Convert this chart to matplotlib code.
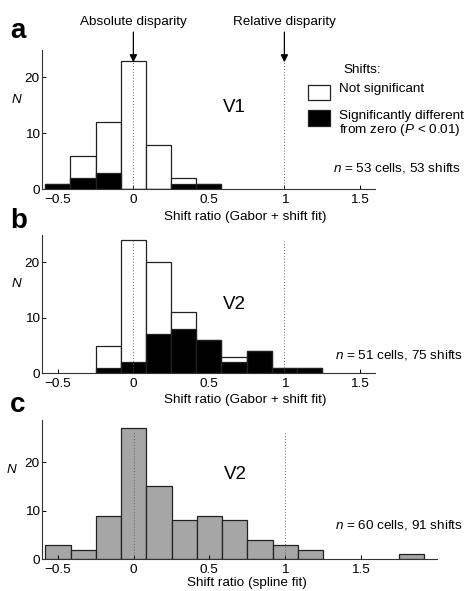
import numpy as np
import matplotlib
matplotlib.use("Agg")
import matplotlib.pyplot as plt
from matplotlib.patches import Rectangle

plt.rcParams['font.family'] = ['Liberation Sans', 'DejaVu Sans']
plt.rcParams['mathtext.fontset'] = 'custom'
plt.rcParams['mathtext.rm'] = 'Liberation Sans'
plt.rcParams['mathtext.it'] = 'Liberation Sans:italic'
plt.rcParams['axes.unicode_minus'] = True

BIN_W = 1 / 6

# Panel a (V1)
a_centers = [-3, -2, -1, 0, 1, 2, 3]          # in units of bin width
a_total = [1, 6, 12, 23, 8, 2, 1]
a_signif = [1, 2, 3, 0, 0, 1, 1]

# Panel b (V2, Gabor + shift fit)
b_centers = [-1, 0, 1, 2, 3, 4, 5, 6, 7]
b_total = [5, 24, 20, 11, 6, 3, 4, 1, 1]
b_signif = [1, 2, 7, 8, 6, 2, 4, 1, 1]

# Panel c (V2, spline fit)
c_centers = [-3, -2, -1, 0, 1, 2, 3, 4, 5, 6, 7, 11]
c_counts = [3, 2, 9, 27, 15, 8, 9, 8, 4, 3, 2, 1]

xticks = [-0.5, 0, 0.5, 1, 1.5]
xtick_labels = ['\u22120.5', '0', '0.5', '1', '1.5']
yticks = [0, 10, 20]

W, H = 466, 591
fig = plt.figure(figsize=(W / 100, H / 100), dpi=100)

def px_axes(left, right, top, bottom):
    return fig.add_axes([left / W, 1 - bottom / H, (right - left) / W, (bottom - top) / H])

ax_a = px_axes(41.7, 375, 50, 189.3)
ax_b = px_axes(41.7, 375, 235, 373.3)
ax_c = px_axes(41.7, 436.7, 420, 559.3)

FS = 9.7
EDGE = '#222222'

def style(ax, xlim, ylim):
    ax.set_xlim(*xlim)
    ax.set_ylim(*ylim)
    for s in ['top', 'right']:
        ax.spines[s].set_visible(False)
    for s in ['left', 'bottom']:
        ax.spines[s].set_linewidth(0.8)
        ax.spines[s].set_color('#333333')
    ax.set_xticks(xticks)
    ax.set_xticklabels(xtick_labels)
    ax.set_yticks(yticks)
    ax.tick_params(direction='in', length=3, width=0.7, labelsize=FS)
    ax.tick_params(axis='x', pad=3.5)
    ax.tick_params(axis='y', pad=1.5)
    ax.set_ylabel('$N$', rotation=0, fontsize=FS)
    ax.yaxis.set_label_coords(-0.075, 0.6)

def ref_lines(ax, top_frac):
    for xv in (0, 1):
        ax.axvline(xv, ymin=0, ymax=top_frac, color='#666666', lw=0.7,
                   linestyle=(0, (1, 2)), zorder=3)

# Panel a
ac = np.array(a_centers) * BIN_W
ax_a.bar(ac, a_total, width=BIN_W, color='white', edgecolor=EDGE, linewidth=0.9, zorder=1)
ax_a.bar(ac, a_signif, width=BIN_W, color='black', edgecolor=EDGE, linewidth=0.9, zorder=2)
style(ax_a, (-0.607, 1.6), (0, 24.9))
ref_lines(ax_a, 0.915)
fig.text(245 / W, 1 - 217 / H, 'Shift ratio (Gabor + shift fit)', fontsize=FS, ha='center', va='center')
ax_a.text(0.67, 14.7, 'V1', fontsize=13.5, ha='center', va='center')

# arrows and top labels
for xv, lab in [(0, 'Absolute disparity'), (1, 'Relative disparity')]:
    ax_a.annotate('', xy=(xv, 22.7), xytext=(xv, 28.1),
                  arrowprops=dict(arrowstyle='-|>', color='black', lw=0.9,
                                  mutation_scale=11, shrinkA=0, shrinkB=0),
                  annotation_clip=False)
    ax_a.text(xv, 29.9, lab, fontsize=FS, ha='center', va='center', clip_on=False)

# legend (manual)
ax_a.add_patch(Rectangle((0.799, 0.641), 0.066, 0.108, transform=ax_a.transAxes,
                         facecolor='white', edgecolor=EDGE, lw=0.9, clip_on=False))
ax_a.add_patch(Rectangle((0.799, 0.454), 0.066, 0.115, transform=ax_a.transAxes,
                         facecolor='black', edgecolor=EDGE, lw=0.9, clip_on=False))
ax_a.text(0.904, 0.856, 'Shifts:', transform=ax_a.transAxes, fontsize=FS, va='center', clip_on=False)
ax_a.text(0.892, 0.719, 'Not significant', transform=ax_a.transAxes, fontsize=FS, va='center', clip_on=False)
ax_a.text(0.892, 0.47, 'Significantly different\nfrom zero ($P$ < 0.01)', transform=ax_a.transAxes,
          fontsize=FS, va='center', linespacing=1.0, clip_on=False)

fig.text(333 / W, 1 - 168 / H, '$n$ = 53 cells, 53 shifts', fontsize=FS, va='center')

# Panel b
bc = np.array(b_centers) * BIN_W
ax_b.bar(bc, b_total, width=BIN_W, color='white', edgecolor=EDGE, linewidth=0.9, zorder=1)
ax_b.bar(bc, b_signif, width=BIN_W, color='black', edgecolor=EDGE, linewidth=0.9, zorder=2)
style(ax_b, (-0.607, 1.6), (0, 24.9))
ref_lines(ax_b, 0.96)
ax_b.text(0.67, 12.3, 'V2', fontsize=13.5, ha='center', va='center')
fig.text(335 / W, 1 - 355 / H, '$n$ = 51 cells, 75 shifts', fontsize=FS, va='center')
fig.text(245 / W, 1 - 400 / H, 'Shift ratio (Gabor + shift fit)', fontsize=FS, ha='center', va='center')

# Panel c
cc = np.array(c_centers) * BIN_W
ax_c.bar(cc, c_counts, width=BIN_W, color='#a6a6a6', edgecolor=EDGE, linewidth=0.9, zorder=1)
style(ax_c, (-0.607, 2.0), (0, 28.7))
ref_lines(ax_c, 0.92)
fig.text(246.7 / W, 1 - 583 / H, 'Shift ratio (spline fit)', fontsize=FS, ha='center', va='center')
ax_c.text(0.67, 17.4, 'V2', fontsize=13.5, ha='center', va='center')
fig.text(335 / W, 1 - 525 / H, '$n$ = 60 cells, 91 shifts', fontsize=FS, va='center')

# panel letters
for lab, yb in [('a', 38), ('b', 228), ('c', 412)]:
    fig.text(10 / W, 1 - yb / H, lab, fontsize=20, fontweight='bold', va='baseline')

fig.savefig('out.png', dpi=100)
